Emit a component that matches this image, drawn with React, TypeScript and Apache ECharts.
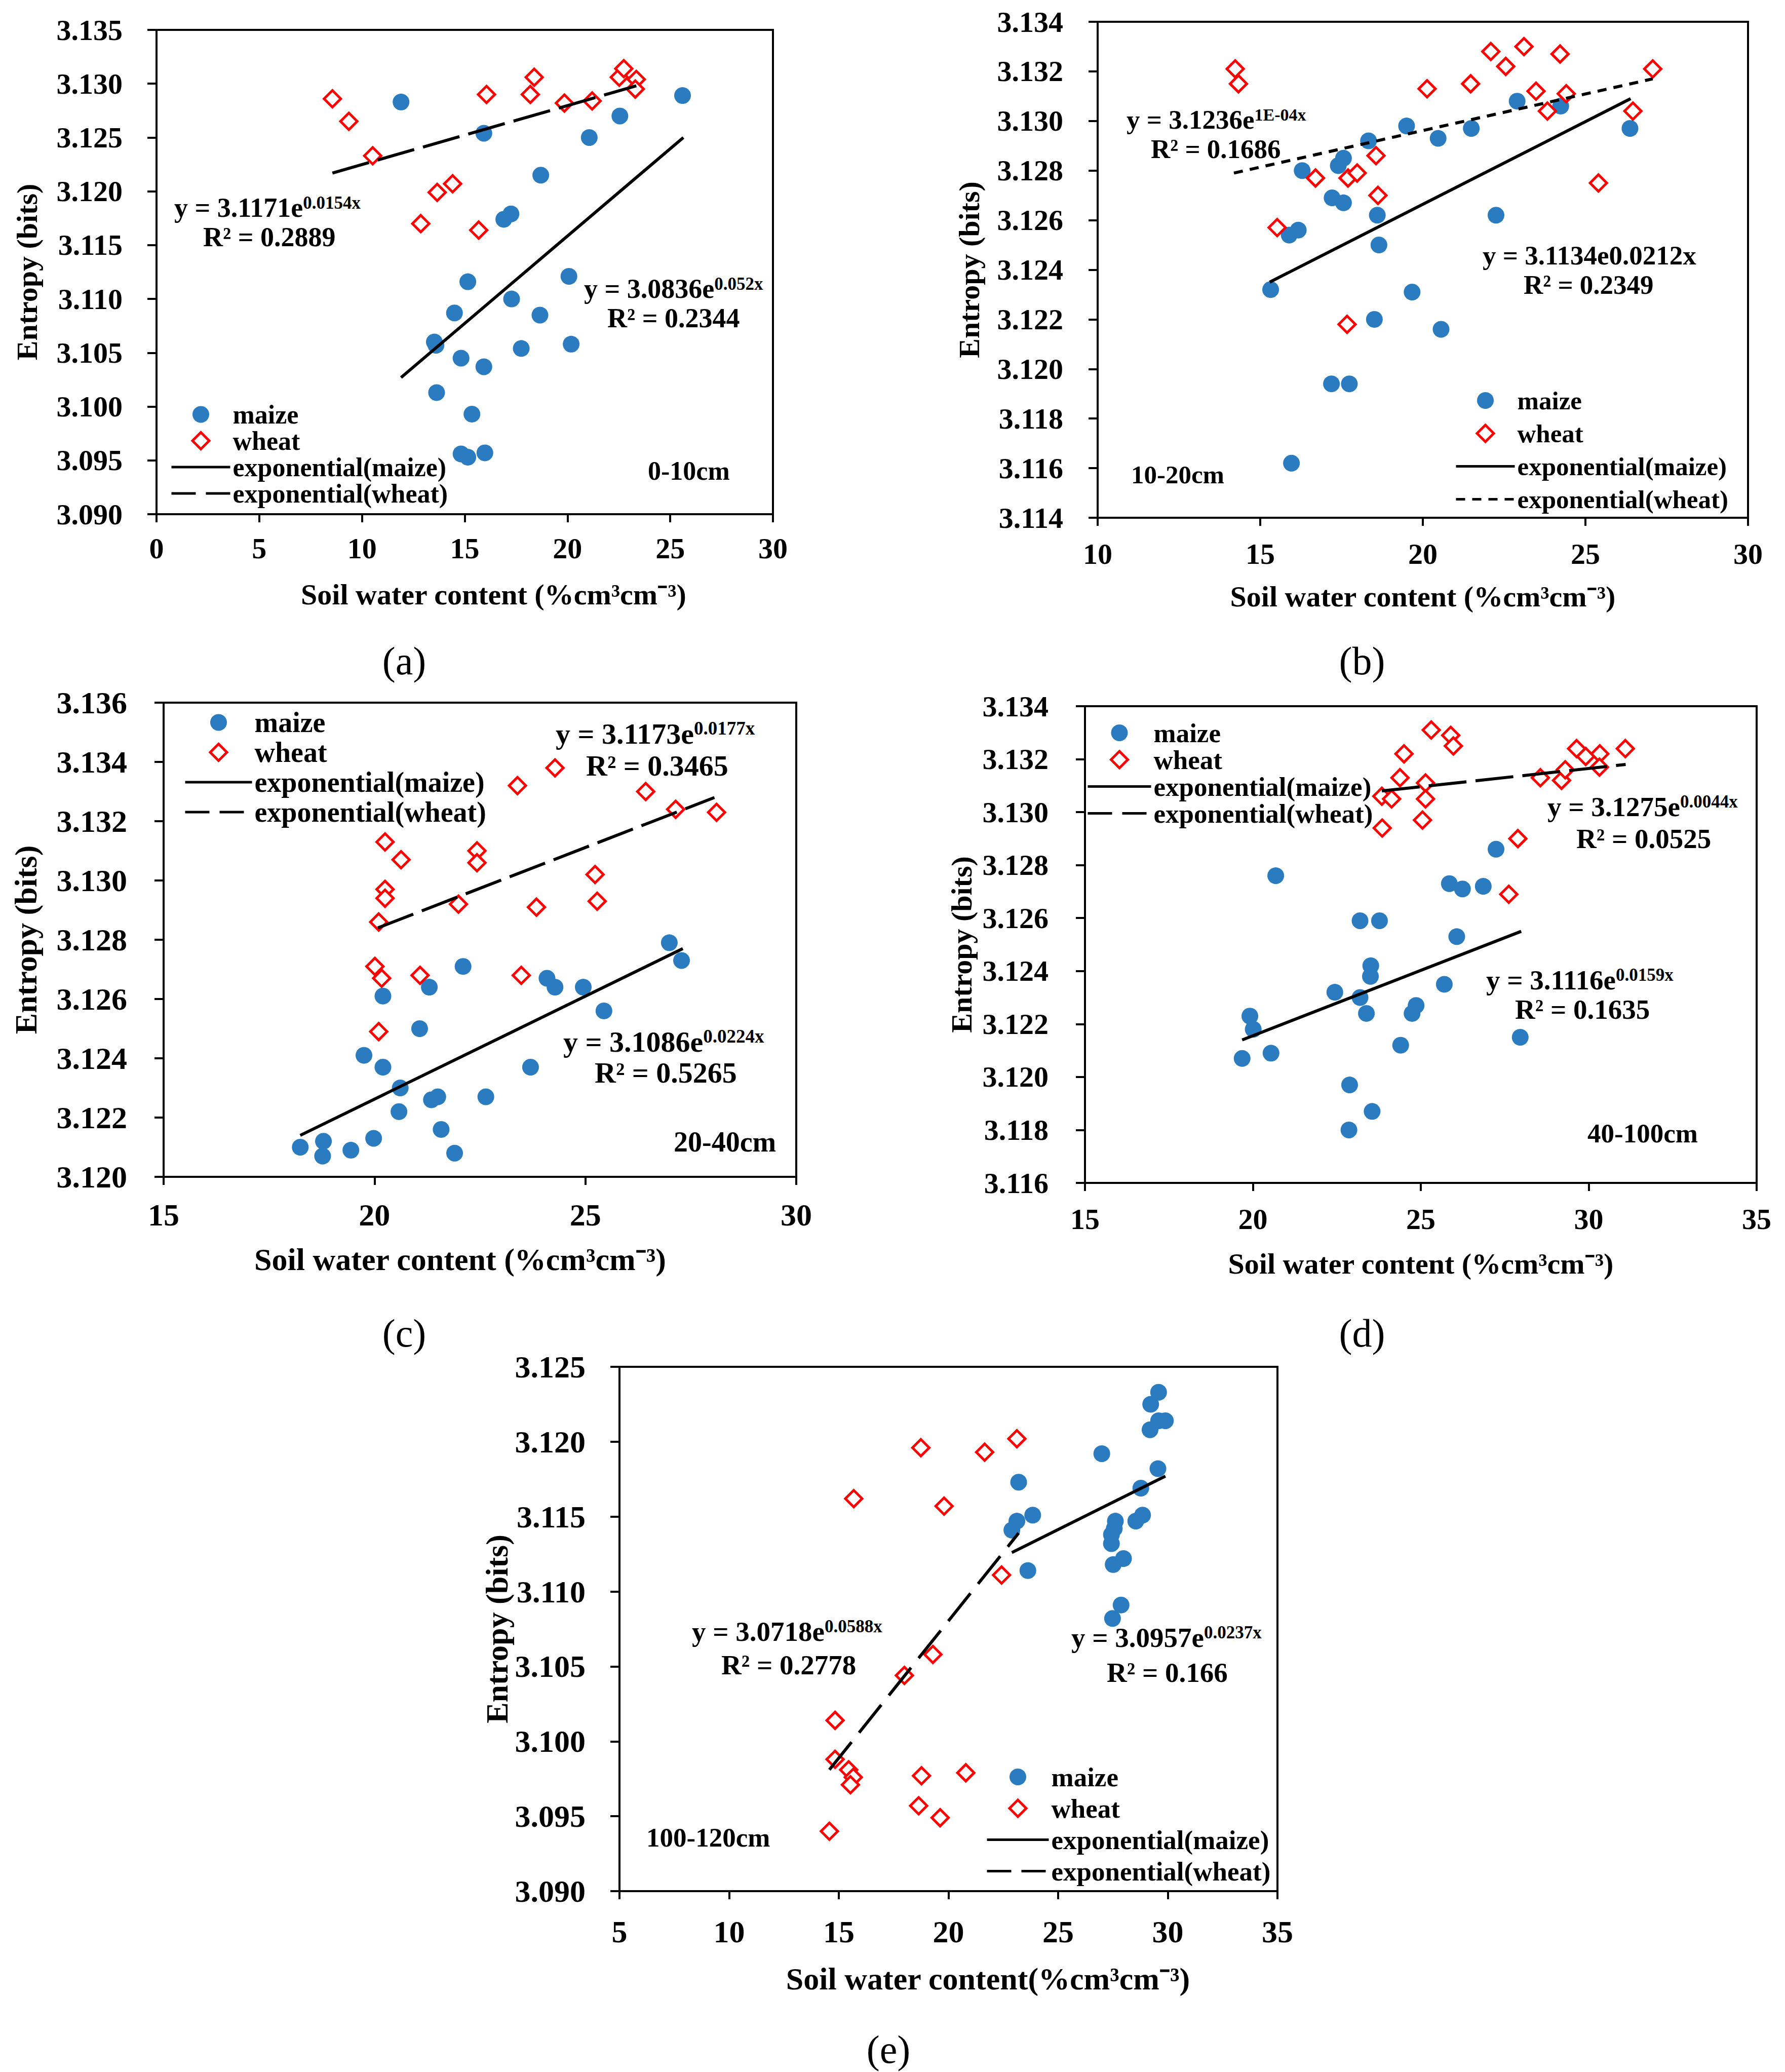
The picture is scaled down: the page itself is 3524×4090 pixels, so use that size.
import React, { useEffect, useRef } from "react";
import * as echarts from "echarts";

// ---------- Panel (a) 0-10cm ----------
const maizeA: number[][] = [
  [11.9, 3.1283], [15.93, 3.1254], [25.6, 3.1289], [22.55, 3.127], [21.06, 3.125], [18.7, 3.1215],
  [16.9, 3.1174], [17.25, 3.1179], [15.15, 3.1116], [20.07, 3.1121], [17.28, 3.11], [14.5, 3.1087],
  [18.66, 3.1085], [13.52, 3.106], [13.6, 3.1057], [17.75, 3.1054], [20.18, 3.1058], [14.82, 3.1045],
  [15.93, 3.1037], [13.63, 3.1013], [15.35, 3.0993], [14.82, 3.0956], [15.15, 3.0953], [15.98, 3.0957],
];
const wheatA: number[][] = [
  [8.56, 3.1286], [9.36, 3.1265], [10.52, 3.1233], [12.86, 3.117], [13.66, 3.1199], [14.41, 3.1207],
  [15.68, 3.1164], [16.06, 3.129], [18.19, 3.129], [18.38, 3.1306], [19.85, 3.1282], [21.2, 3.1284],
  [22.52, 3.1306], [22.74, 3.1314], [23.35, 3.1304], [23.3, 3.1295],
];
const fitMaizeA: number[][] = [[11.9, 3.1027], [25.64, 3.125]];
const fitWheatA: number[][] = [[8.56, 3.1217], [23.35, 3.1298]];

// ---------- Panel (b) 10-20cm ----------
const maizeB: number[][] = [
  [15.32, 3.1232], [15.89, 3.1254], [16.17, 3.1256], [15.96, 3.1162], [16.29, 3.128], [17.21, 3.1269],
  [17.56, 3.1267], [17.4, 3.1282], [17.56, 3.1285], [17.19, 3.1194], [17.74, 3.1194], [18.33, 3.1292],
  [18.6, 3.1262], [18.65, 3.125], [18.51, 3.122], [19.5, 3.1298], [19.67, 3.1231], [20.47, 3.1293],
  [20.56, 3.1216], [21.49, 3.1297], [22.25, 3.1262], [22.9, 3.1308], [24.24, 3.1306], [26.37, 3.1297],
];
const wheatB: number[][] = [
  [14.23, 3.1321], [14.33, 3.1315], [15.52, 3.1257], [16.7, 3.1277], [17.7, 3.1277], [17.98, 3.1279],
  [18.56, 3.1286], [18.62, 3.127], [17.67, 3.1218], [20.13, 3.1313], [21.47, 3.1315], [22.09, 3.1328],
  [22.55, 3.1322], [23.11, 3.133], [23.48, 3.1312], [23.83, 3.1304], [24.22, 3.1327], [24.41, 3.1311],
  [25.4, 3.1275], [26.46, 3.1304], [27.07, 3.1321],
];
const fitMaizeB: number[][] = [[15.29, 3.1235], [26.39, 3.1309]];
const fitWheatB: number[][] = [[14.19, 3.1279], [27.07, 3.1317]];

// ---------- Panel (c) 20-40cm ----------
const maizeC: number[][] = [
  [18.24, 3.121], [18.79, 3.1212], [18.77, 3.1207], [19.44, 3.1209], [19.98, 3.1213], [19.75, 3.1241],
  [20.2, 3.1237], [20.2, 3.1261], [20.61, 3.123], [20.58, 3.1222], [21.07, 3.125], [21.3, 3.1264],
  [21.35, 3.1226], [21.5, 3.1227], [21.58, 3.1216], [21.9, 3.1208], [22.1, 3.1271], [22.64, 3.1227],
  [23.7, 3.1237], [24.09, 3.1267], [24.28, 3.1264], [24.95, 3.1264], [25.44, 3.1256], [26.99, 3.1279],
  [27.28, 3.1273],
];
const wheatC: number[][] = [
  [20.1, 3.1286], [20.01, 3.1271], [20.17, 3.1267], [20.1, 3.1249], [20.25, 3.1313], [20.25, 3.1297],
  [20.25, 3.1294], [20.63, 3.1307], [21.08, 3.1268], [21.99, 3.1292], [22.43, 3.131], [22.43, 3.1306],
  [23.39, 3.1332], [23.48, 3.1268], [23.84, 3.1291], [24.28, 3.1338], [25.23, 3.1302], [25.28, 3.1293],
  [26.43, 3.133], [27.14, 3.1324], [28.11, 3.1323],
];
const fitMaizeC: number[][] = [[18.24, 3.1214], [27.31, 3.1277]];
const fitWheatC: number[][] = [[20.08, 3.1284], [28.06, 3.1328]];

// ---------- Panel (d) 40-100cm ----------
const maizeD: number[][] = [
  [19.68, 3.1207], [19.91, 3.1223], [20.01, 3.1218], [20.54, 3.1209], [20.68, 3.1276], [22.44, 3.1232],
  [22.86, 3.118], [22.88, 3.1197], [23.19, 3.1259], [23.19, 3.123], [23.38, 3.1224], [23.5, 3.1238],
  [23.51, 3.1242], [23.55, 3.1187], [23.77, 3.1259], [24.4, 3.1212], [24.74, 3.1224], [24.86, 3.1227],
  [25.7, 3.1235], [25.85, 3.1273], [26.07, 3.1253], [26.24, 3.1271], [26.86, 3.1272], [27.24, 3.1286],
  [27.96, 3.1215],
];
const wheatD: number[][] = [
  [23.84, 3.1306], [23.85, 3.1294], [24.13, 3.1305], [24.38, 3.1313], [24.5, 3.1322], [25.05, 3.1297],
  [25.14, 3.1311], [25.14, 3.1305], [25.31, 3.1331], [25.89, 3.1329], [25.97, 3.1325], [27.89, 3.129],
  [27.62, 3.1269], [28.56, 3.1313], [29.19, 3.1312], [29.3, 3.1316], [29.64, 3.1324], [29.91, 3.1321],
  [30.33, 3.1322], [30.32, 3.1317], [31.09, 3.1324],
];
const fitMaizeD: number[][] = [[19.68, 3.1214], [27.99, 3.1255]];
const fitWheatD: number[][] = [[23.84, 3.1308], [31.1, 3.1318]];

// ---------- Panel (e) 100-120cm ----------
const maizeE: number[][] = [
  [22.89, 3.1141], [23.12, 3.1147], [23.2, 3.1173], [23.84, 3.1151], [23.62, 3.1114], [26.99, 3.1192],
  [27.43, 3.1138], [27.43, 3.1132], [27.61, 3.1147], [27.56, 3.1142], [27.51, 3.1118], [27.98, 3.1122],
  [27.87, 3.1091], [27.48, 3.1082], [28.54, 3.1147], [28.85, 3.1151], [28.77, 3.1169], [29.55, 3.1182],
  [29.19, 3.1208], [29.58, 3.1214], [29.89, 3.1214], [29.22, 3.1225], [29.58, 3.1233],
];
const wheatE: number[][] = [
  [14.57, 3.094], [14.83, 3.1014], [14.83, 3.0988], [15.45, 3.0981], [15.66, 3.0976], [15.53, 3.0971],
  [15.68, 3.1162], [17.99, 3.1044], [19.29, 3.1058], [18.74, 3.1196], [19.8, 3.1157], [18.77, 3.0977],
  [18.64, 3.0957], [19.62, 3.0949], [20.79, 3.0979], [21.65, 3.1193], [22.42, 3.1111], [23.12, 3.1202],
];
const fitMaizeE: number[][] = [[22.89, 3.1126], [29.89, 3.1177]];
const fitWheatE: number[][] = [[14.57, 3.0981], [23.2, 3.1139]];

// ---------- Axis ranges ----------
const xRanges: number[][] = [[0, 30, 5], [10, 30, 5], [15, 30, 5], [15, 35, 5], [5, 35, 5]];
const yRanges: number[][] = [
  [3.09, 3.135, 0.005], [3.114, 3.134, 0.002], [3.12, 3.136, 0.002], [3.116, 3.134, 0.002], [3.09, 3.125, 0.005],
];

// ---------- Texts ----------
const depthLabels = ["0-10cm", "10-20cm", "20-40cm", "40-100cm", "100-120cm"];
const panelLabels = ["(a)", "(b)", "(c)", "(d)", "(e)"];
const xTitles = [
  "Soil water content (%cm³cm⁻³)", "Soil water content (%cm³cm⁻³)", "Soil water content (%cm³cm⁻³)",
  "Soil water content (%cm³cm⁻³)", "Soil water content(%cm³cm⁻³)",
];
const yTitle = "Entropy (bits)";
const wheatEq: string[][] = [["y = 3.1171e", "0.0154x"], ["y = 3.1236e", "1E-04x"], ["y = 3.1173e", "0.0177x"], ["y = 3.1275e", "0.0044x"], ["y = 3.0718e", "0.0588x"]];
const wheatR2 = ["R² = 0.2889", "R² = 0.1686", "R² = 0.3465", "R² = 0.0525", "R² = 0.2778"];
const maizeEq: string[][] = [["y = 3.0836e", "0.052x"], ["y = 3.1134e0.0212x", ""], ["y = 3.1086e", "0.0224x"], ["y = 3.1116e", "0.0159x"], ["y = 3.0957e", "0.0237x"]];
const maizeR2 = ["R² = 0.2344", "R² = 0.2349", "R² = 0.5265", "R² = 0.1635", "R² = 0.166"];

const maizeList = [maizeA, maizeB, maizeC, maizeD, maizeE];
const wheatList = [wheatA, wheatB, wheatC, wheatD, wheatE];
const fitMaizeList = [fitMaizeA, fitMaizeB, fitMaizeC, fitMaizeD, fitMaizeE];
const fitWheatList = [fitWheatA, fitWheatB, fitWheatC, fitWheatD, fitWheatE];

const FONT = "'Liberation Serif', 'Times New Roman', serif";
const BLUE = "#2A7BC0";
const RED = "#FF0000";
const CLEAR = "rgba(0,0,0,0)";
const DIAMOND_ICON = "path://M0,-10L10,0L0,10L-10,0Z";

const layout = [
  { left: 309, top: 59, width: 1217, height: 956, fs: 58, xMargin: 38, yMargin: 67, xGap: 129, yGap: 227, xPad: [0, 0, 0, 114],
    legend: { left: 336, top: 792, itemWidth: 116, gap: 0, fs: 52 }, dash: [75, 18], legendDash: [48, 20],
    wEq: [344, 410], wR: [401, 468], mEq: [1153, 570], mR: [1199, 628], depth: [1279, 929], panel: [798, 1304] },
  { left: 2167, top: 43, width: 1284, height: 979, fs: 58, xMargin: 42, yMargin: 68, xGap: 126, yGap: 225, xPad: [0, 0, 0, 0],
    legend: { left: 2872, top: 765, itemWidth: 116, gap: 14, fs: 51 }, dash: [18, 14], legendDash: [18, 14],
    wEq: [2224, 236], wR: [2272, 294], mEq: [2927, 504], mR: [3008, 562], depth: [2233, 937], panel: [2689, 1304] },
  { left: 323, top: 1387, width: 1249, height: 936, fs: 62, xMargin: 44, yMargin: 72, xGap: 132, yGap: 241, xPad: [0, 78, 0, 0],
    legend: { left: 363, top: 1398, itemWidth: 132, gap: 3, fs: 56 }, dash: [75, 18], legendDash: [48, 20],
    wEq: [1097, 1448], wR: [1157, 1511], mEq: [1112, 2056], mR: [1174, 2117], depth: [1330, 2254], panel: [798, 2631] },
  { left: 2142, top: 1394, width: 1326, height: 941, fs: 58, xMargin: 42, yMargin: 72, xGap: 130, yGap: 215, xPad: [0, 0, 0, 0],
    legend: { left: 2145, top: 1420, itemWidth: 125, gap: 0, fs: 53 }, dash: [75, 18], legendDash: [48, 20],
    wEq: [3055, 1592], wR: [3112, 1655], mEq: [2934, 1934], mR: [2991, 1992], depth: [3134, 2237], panel: [2689, 2631] },
  { left: 1223, top: 2698, width: 1299, height: 1035, fs: 62, xMargin: 49, yMargin: 67, xGap: 142, yGap: 211, xPad: [0, 0, 0, 156],
    legend: { left: 1946, top: 3481, itemWidth: 122, gap: 9, fs: 53 }, dash: [70, 24], legendDash: [48, 20],
    wEq: [1366, 3220], wR: [1424, 3286], mEq: [2115, 3232], mR: [2185, 3301], depth: [1276, 3627], panel: [1754, 4045] },
];

function eqText(x: number, y: number, base: string, sup: string, fs: number) {
  const supFs = Math.round(fs * 0.64);
  return {
    type: "text",
    x,
    y,
    z: 100,
    style: {
      text: sup ? `{n|${base}}{s|${sup}}` : `{n|${base}}`,
      rich: {
        n: { fontSize: fs, fontFamily: FONT, fontWeight: "bold", fill: "#000", lineHeight: fs, verticalAlign: "bottom" },
        s: { fontSize: supFs, fontFamily: FONT, fontWeight: "bold", fill: "#000", lineHeight: supFs, verticalAlign: "top" },
      },
      align: "left",
      verticalAlign: "middle",
    },
  };
}

function plainText(x: number, y: number, text: string, fs: number, weight: string, align: string) {
  return {
    type: "text",
    x,
    y,
    z: 100,
    style: {
      text,
      fontSize: fs,
      fontFamily: FONT,
      fontWeight: weight,
      fill: "#000",
      align,
      verticalAlign: "middle",
    },
  };
}

function buildOption() {
  const grid: any[] = [];
  const xAxis: any[] = [];
  const yAxis: any[] = [];
  const series: any[] = [];
  const legend: any[] = [];
  const graphic: any[] = [];

  layout.forEach((L, i) => {
    grid.push({
      left: L.left, top: L.top, width: L.width, height: L.height,
      show: true, borderColor: "#000", borderWidth: 4, backgroundColor: "transparent",
    });
    const [xmin, xmax, xint] = xRanges[i];
    const [ymin, ymax, yint] = yRanges[i];
    xAxis.push({
      type: "value", gridIndex: i, min: xmin, max: xmax, interval: xint,
      name: xTitles[i], nameLocation: "middle", nameGap: L.xGap,
      nameTextStyle: { fontFamily: FONT, fontWeight: "bold", fontSize: L.fs, color: "#000", padding: L.xPad },
      axisLine: { show: true, onZero: false, lineStyle: { color: "#000", width: 4 } },
      axisTick: { show: true, inside: false, length: 16, lineStyle: { color: "#000", width: 4 } },
      axisLabel: { fontFamily: FONT, fontWeight: "bold", fontSize: L.fs, color: "#000", margin: L.xMargin, showMinLabel: true, showMaxLabel: true },
      splitLine: { show: false },
    });
    yAxis.push({
      type: "value", gridIndex: i, min: ymin, max: ymax, interval: yint,
      name: yTitle, nameLocation: "middle", nameGap: L.yGap, nameRotate: 90,
      nameTextStyle: { fontFamily: FONT, fontWeight: "bold", fontSize: L.fs, color: "#000" },
      axisLine: { show: true, onZero: false, lineStyle: { color: "#000", width: 4 } },
      axisTick: { show: true, inside: false, length: 18, lineStyle: { color: "#000", width: 4 } },
      axisLabel: {
        fontFamily: FONT, fontWeight: "bold", fontSize: L.fs, color: "#000", margin: L.yMargin,
        showMinLabel: true, showMaxLabel: true,
        formatter: (v: number) => v.toFixed(3),
      },
      splitLine: { show: false },
    });
    series.push({
      name: "maize", type: "scatter", xAxisIndex: i, yAxisIndex: i, data: maizeList[i],
      symbol: "circle", symbolSize: 33, itemStyle: { color: BLUE, opacity: 1 }, z: 2,
    });
    series.push({
      name: "wheat", type: "scatter", xAxisIndex: i, yAxisIndex: i, data: wheatList[i],
      symbol: "diamond", symbolSize: 33, itemStyle: { color: "#fff", borderColor: RED, borderWidth: 5, opacity: 1 }, z: 3,
    });
    series.push({
      name: "exponential(maize)", type: "line", xAxisIndex: i, yAxisIndex: i, data: fitMaizeList[i],
      symbol: "none", itemStyle: { color: CLEAR }, lineStyle: { color: "#000", width: 6, type: "solid" }, z: 4,
    });
    series.push({
      name: "exponential(wheat)", type: "line", xAxisIndex: i, yAxisIndex: i, data: fitWheatList[i],
      symbol: "none", itemStyle: { color: CLEAR }, lineStyle: { color: "#000", width: 6, type: L.dash }, z: 5,
    });
    legend.push({
      left: L.legend.left, top: L.legend.top, orient: "vertical",
      itemWidth: L.legend.itemWidth, itemHeight: 33, itemGap: L.legend.gap,
      selectedMode: false, padding: 0, symbolKeepAspect: true,
      textStyle: { fontFamily: FONT, fontWeight: "bold", fontSize: L.legend.fs, lineHeight: 50, color: "#000" },
      data: [
        { name: "maize", icon: "circle", itemStyle: { color: BLUE, borderWidth: 0 } },
        { name: "wheat", icon: DIAMOND_ICON, itemStyle: { color: "#fff", borderColor: RED, borderWidth: 5 } },
        { name: "exponential(maize)", itemStyle: { color: CLEAR, borderWidth: 0, opacity: 0 }, lineStyle: { color: "#000", width: 5, type: "solid" } },
        { name: "exponential(wheat)", itemStyle: { color: CLEAR, borderWidth: 0, opacity: 0 }, lineStyle: { color: "#000", width: 5, type: L.legendDash } },
      ],
    });
    graphic.push(eqText(L.wEq[0], L.wEq[1], wheatEq[i][0], wheatEq[i][1], L.legend.fs + 2));
    graphic.push(plainText(L.wR[0], L.wR[1], wheatR2[i], L.legend.fs + 2, "bold", "left"));
    graphic.push(eqText(L.mEq[0], L.mEq[1], maizeEq[i][0], maizeEq[i][1], L.legend.fs + 2));
    graphic.push(plainText(L.mR[0], L.mR[1], maizeR2[i], L.legend.fs + 2, "bold", "left"));
    graphic.push(plainText(L.depth[0], L.depth[1], depthLabels[i], L.legend.fs, "bold", "left"));
    graphic.push(plainText(L.panel[0], L.panel[1], panelLabels[i], 78, "normal", "center"));
  });

  return {
    animation: false,
    backgroundColor: "#fff",
    grid, xAxis, yAxis, series, legend, graphic,
  };
}

export default function App() {
  const ref = useRef<HTMLDivElement>(null);
  useEffect(() => {
    if (!ref.current) return;
    const chart = echarts.init(ref.current, undefined, { renderer: "svg" });
    chart.setOption(buildOption() as any);
    return () => chart.dispose();
  }, []);
  return (
    <div
      ref={ref}
      style={{ position: "absolute", left: 0, top: 0, width: 3524, height: 4090, background: "#fff" }}
    />
  );
}
